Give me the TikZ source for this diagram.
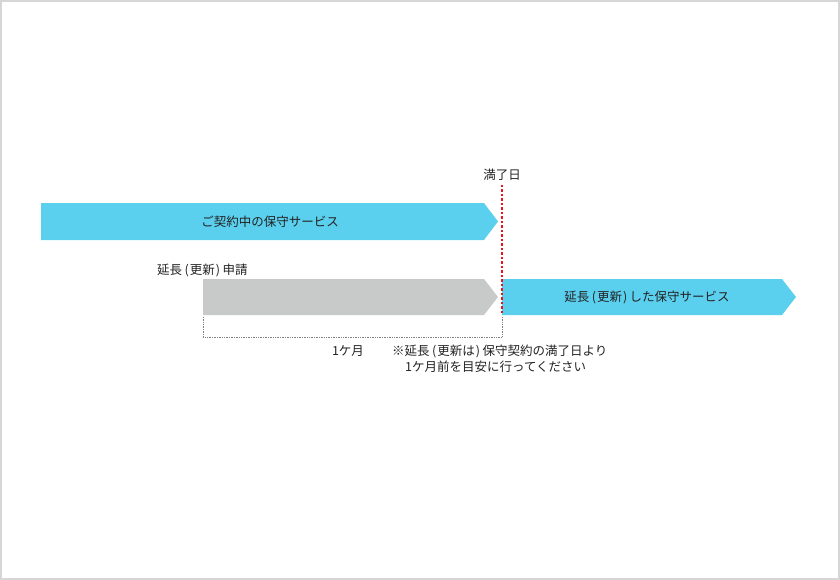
\documentclass[tikz,border=0pt]{standalone}
\usepackage{fontspec}
\setmainfont{Noto Sans CJK JP}
\usepackage{xcolor}
\usetikzlibrary{positioning}
\definecolor{serviceblue}{RGB}{91,208,238}
\definecolor{requestgray}{RGB}{200,201,201}
\definecolor{framegray}{RGB}{214,214,214}
\definecolor{labeltext}{RGB}{34,34,34}
\definecolor{limitred}{RGB}{235,20,30}
\newcommand{\opn}{\kern2.5pt(\kern1pt}
\newcommand{\cls}{\kern1pt)\kern2.5pt}
\tikzset{
  lbl/.style={font=\fontsize{12.5}{15}\selectfont, text=labeltext, inner sep=0pt}
}

\begin{document}
\begin{tikzpicture}[x=1pt, y=-1pt]
    % frame
    \useasboundingbox (0, 0) rectangle (840, 580);
    \draw[framegray, line width=2pt] (1, 1) rectangle (839, 579);

    % draw current service arrow
    \fill[serviceblue] (41, 203) -- (484, 203) -- (498, 221.5) -- (484, 240) -- (41, 240) -- cycle;
    \node[lbl] (current) at (270, 221.5) {ご契約中の保守サービス};

    % draw request arrow
    \fill[requestgray] (203, 279) -- (484, 279) -- (498, 297) -- (484, 315) -- (203, 315) -- cycle;
    \node[lbl, anchor = west] (request) at (157, 270) {延長\opn 更新\cls 申請};

    % draw renewed service arrow
    \fill[serviceblue] (502, 279) -- (782, 279) -- (796, 297) -- (782, 315) -- (502, 315) -- cycle;
    \node[lbl] (renewed) at (647, 297) {延長\opn 更新\cls した保守サービス};

    % draw expiry date and line
    \node[lbl] (expiry) at (502, 175) {満了日};
    \coordinate (expirybottom) at (502, 315);
    \draw[limitred, dash pattern=on 2.5pt off 2pt, line width=1.2pt] (expiry.south) ++(0, 4) -- (expirybottom);

    % draw one month bracket
    \coordinate (bracketleft) at (203, 317);
    \coordinate (bracketright) at (502, 317);
    \draw[gray, densely dotted, line width=0.7pt] (bracketleft) -- ++(0, 20) -| (bracketright);

    % draw notes
    \node[lbl] (month) at (348, 351) {1ケ月};
    \node[lbl, anchor = west] (note) at (392, 351) {※延長\opn 更新は\cls 保守契約の満了日より};
    \node[lbl, anchor = west] (notetwo) at (405, 367) {1ケ月前を目安に行ってください};
\end{tikzpicture}
\end{document}
